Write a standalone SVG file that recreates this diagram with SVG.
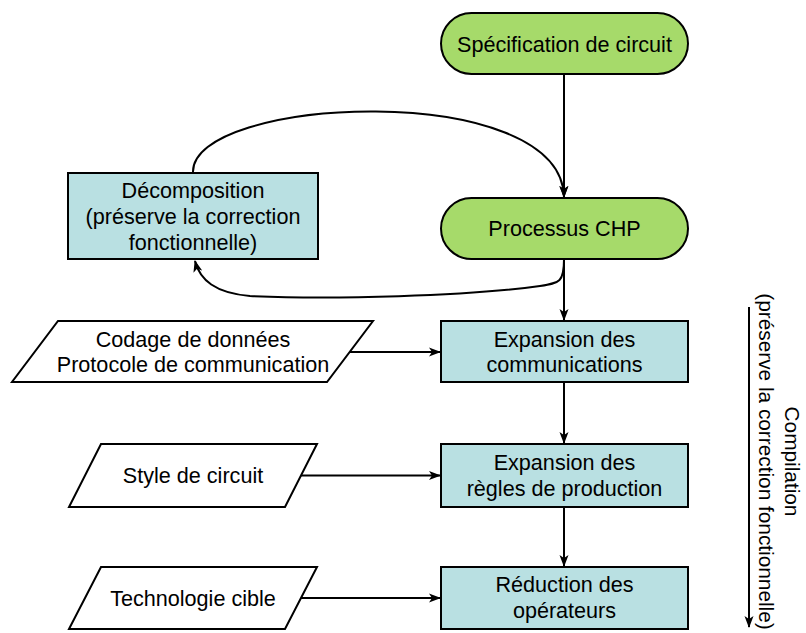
<svg xmlns="http://www.w3.org/2000/svg" width="806" height="633" viewBox="0 0 806 633">
<style>
text{font-family:"Liberation Sans",Arial,sans-serif;font-size:21.6px;fill:#000;text-anchor:middle}
.rot{font-size:20.8px}
.pill{fill:#a6da6a;stroke:#000;stroke-width:2}
.box{fill:#b9e0e2;stroke:#000;stroke-width:2}
.para{fill:#fff;stroke:#000;stroke-width:2}
.ln{fill:none;stroke:#000;stroke-width:2}
</style>
<defs>
<marker id="ah" viewBox="0 0 12 10" refX="11" refY="5" markerWidth="12" markerHeight="10" markerUnits="userSpaceOnUse" orient="auto">
<path d="M0,0.5 L12,5 L0,9.5 L3,5 z" fill="#000"/>
</marker>
</defs>
<rect width="806" height="633" fill="#fff"/>
<g id="connectors">
<line class="ln" x1="564" y1="74" x2="564" y2="197" marker-end="url(#ah)"/>
<path class="ln" d="M193,173 C189,96 561,78 564,197" marker-end="url(#ah)"/>
<path class="ln" d="M564,259 C564,282 560,283 540,286 C470,296 330,300 250,296 C215,293 200,280 195,261" marker-end="url(#ah)"/>
<line class="ln" x1="564" y1="259" x2="564" y2="320" marker-end="url(#ah)"/>
<line class="ln" x1="564" y1="382" x2="564" y2="443" marker-end="url(#ah)"/>
<line class="ln" x1="564" y1="507" x2="564" y2="566" marker-end="url(#ah)"/>
<line class="ln" x1="350" y1="352" x2="440" y2="352" marker-end="url(#ah)"/>
<line class="ln" x1="301" y1="475.5" x2="440" y2="475.5" marker-end="url(#ah)"/>
<line class="ln" x1="301" y1="598" x2="440" y2="598" marker-end="url(#ah)"/>
<line class="ln" x1="749" y1="307" x2="749" y2="627" marker-end="url(#ah)"/>
</g>
<g id="spec">
<rect class="pill" x="441" y="13" width="247" height="61" rx="30.5"/>
<text x="564.5" y="51.5">Spécification de circuit</text>
</g>
<g id="chp">
<rect class="pill" x="441" y="198" width="247" height="61" rx="30.5"/>
<text x="564.5" y="236">Processus CHP</text>
</g>
<g id="decomp">
<rect class="box" x="68" y="173" width="250" height="86"/>
<text x="193" y="198">Décomposition</text>
<text x="193" y="224">(préserve la correction</text>
<text x="193" y="250">fonctionnelle)</text>
</g>
<g id="expcomm">
<rect class="box" x="441" y="321" width="247" height="61"/>
<text x="564.5" y="346.5">Expansion des</text>
<text x="564.5" y="372">communications</text>
</g>
<g id="expregles">
<rect class="box" x="441" y="444" width="247" height="63"/>
<text x="564.5" y="470">Expansion des</text>
<text x="564.5" y="495.5">règles de production</text>
</g>
<g id="reduction">
<rect class="box" x="441" y="567" width="247" height="62"/>
<text x="564.5" y="592">Réduction des</text>
<text x="564.5" y="618">opérateurs</text>
</g>
<g id="codage">
<polygon class="para" points="58,321 373,321 327,382 12,382"/>
<text x="193" y="346.5">Codage de données</text>
<text x="193" y="372">Protocole de communication</text>
</g>
<g id="style">
<polygon class="para" points="101,444 317,444 285,507 69,507"/>
<text x="193" y="483">Style de circuit</text>
</g>
<g id="techno">
<polygon class="para" points="101,567 317,567 285,629 69,629"/>
<text x="193" y="606">Technologie cible</text>
</g>
<g id="compilation">
<text class="rot" transform="translate(785,461.5) rotate(90)">Compilation</text>
<text class="rot" transform="translate(759,461.5) rotate(90)">(préserve la correction fonctionnelle)</text>
</g>
</svg>
